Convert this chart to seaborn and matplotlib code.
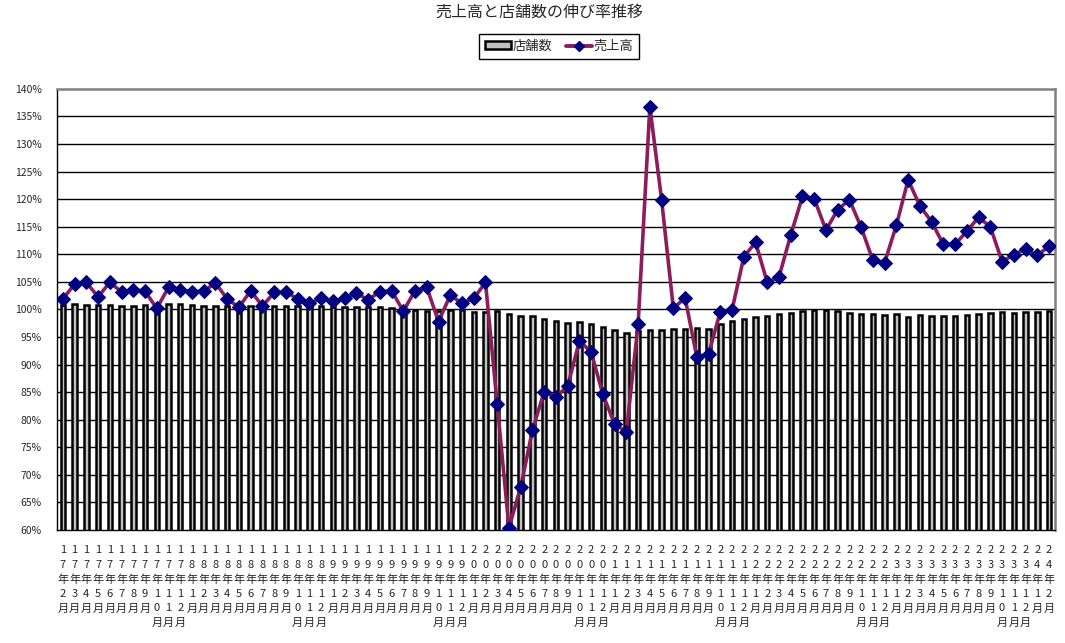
import matplotlib
matplotlib.use("Agg")
import matplotlib.pyplot as plt
from matplotlib.lines import Line2D
from matplotlib.patches import Patch
import numpy as np
import pandas as pd
import seaborn as sns

# 2017年2月 ～ 2024年2月 (85ヶ月)
years = [17] * 11 + [y for y in range(18, 24) for _ in range(12)] + [24] * 2
months = list(range(2, 13)) + list(range(1, 13)) * 6 + [1, 2]

# 店舗数 伸び率 (%)
stores = [
    100.9, 101.0, 100.8, 100.8, 100.8, 100.6, 100.6, 100.8, 100.6, 101.0,
    101.0, 100.8, 100.7, 100.6, 100.6, 100.6, 100.7, 100.6, 100.7, 100.6,
    100.6, 100.5, 100.6, 100.4, 100.4, 100.4, 100.4, 100.4, 100.2, 100.0,
    99.9, 99.7, 99.7, 99.9, 99.9, 99.5, 99.5, 99.7, 99.1, 98.8,
    98.8, 98.2, 98.0, 97.5, 97.7, 97.3, 96.9, 96.2, 95.7, 96.1,
    96.2, 96.2, 96.4, 96.4, 96.6, 96.4, 97.3, 97.9, 98.2, 98.7,
    98.9, 99.1, 99.3, 99.7, 99.9, 99.9, 99.7, 99.4, 99.2, 99.2,
    99.0, 99.2, 98.6, 99.0, 98.8, 98.8, 98.8, 99.0, 99.2, 99.4,
    99.5, 99.4, 99.5, 99.5, 99.7,
]

# 売上高 伸び率 (%)
sales = [
    101.9, 104.6, 104.9, 102.3, 104.9, 103.2, 103.6, 103.3, 100.2, 104.0,
    103.6, 103.2, 103.3, 104.8, 101.9, 100.4, 103.4, 100.6, 103.1, 103.2,
    101.9, 101.1, 102.0, 101.5, 102.0, 102.9, 101.8, 103.2, 103.4, 99.7,
    103.4, 104.0, 97.8, 102.6, 101.1, 102.0, 104.9, 82.8, 60.4, 67.8,
    78.1, 85.1, 84.1, 86.1, 94.3, 92.3, 84.6, 79.2, 77.8, 97.3,
    136.8, 119.9, 100.2, 102.1, 91.4, 91.9, 99.6, 99.9, 109.5, 112.2,
    104.9, 105.9, 113.5, 120.5, 120.1, 114.4, 118.1, 119.9, 114.9, 108.9,
    108.5, 115.3, 123.5, 118.8, 115.9, 111.8, 111.8, 114.2, 116.7, 115.0,
    108.7, 109.9, 111.0, 109.8, 111.5,
]

yticks = np.arange(60, 141, 5)


def stack(text):
    return "\n".join(text)


labels = [stack(f"{y}年{m}") + "\n月" for y, m in zip(years, months)]

df = pd.DataFrame({"idx": np.arange(len(stores)), "stores": stores, "sales": sales})

sns.set_theme(style="white")
plt.rcParams["font.family"] = ["Noto Sans CJK JP", "DejaVu Sans"]

fig = plt.figure(figsize=(10.65, 6.43), dpi=100)
ax = fig.add_axes([0.0535, 0.1757, 0.937, 0.686])

sns.barplot(data=df, x="idx", y="stores", color="#c0c0c0", width=0.38,
            edgecolor="black", linewidth=1.8, saturation=1, ax=ax)
for p in ax.patches:
    p.set_zorder(2)
sns.lineplot(data=df, x="idx", y="sales", color="#8c1c5c", linewidth=2.6,
             marker="D", markersize=7, markerfacecolor="#000080",
             markeredgecolor="#000080", ax=ax, zorder=3)

ax.set_ylim(60, 140)
ax.set_xlim(-0.5, len(stores) - 0.5)
ax.set_yticks(yticks)
ax.set_yticklabels([f"{v}%" for v in yticks], fontsize=7.5)
for v in yticks[1:-1]:
    ax.axhline(v, color="black", linewidth=1.0, zorder=1)

ax.set_xticks(np.arange(len(labels)))
ax.set_xticklabels(labels, fontsize=8, linespacing=1.55, va="top")
ax.tick_params(axis="x", length=3, width=0.8, pad=8, color="black", direction="out")
ax.tick_params(axis="y", length=3, width=0.8, pad=8, color="black", direction="out")
ax.set_xlabel("")
ax.set_ylabel("")

for side in ["top", "right"]:
    ax.spines[side].set_color("#808080")
    ax.spines[side].set_linewidth(1.8)
for side in ["left", "bottom"]:
    ax.spines[side].set_color("black")
    ax.spines[side].set_linewidth(1.0)

fig.suptitle("売上高と店舗数の伸び率推移", x=0.506, y=0.995, fontsize=11.5)

handles = [
    Patch(facecolor="#c0c0c0", edgecolor="black", linewidth=1.8),
    Line2D([0], [0], color="#8c1c5c", linewidth=2.8, marker="D",
           markersize=5, markerfacecolor="#000080", markeredgecolor="#000080"),
]
fig.legend(handles, ["店舗数", "売上高"], loc="center", bbox_to_anchor=(0.525, 0.928),
           ncol=2, fontsize=9.5, frameon=True, fancybox=False, edgecolor="black",
           handlelength=2.0, handleheight=0.5, handletextpad=0.1, columnspacing=1.0,
           borderpad=0.45, framealpha=1)

fig.savefig("out.png", dpi=100)
